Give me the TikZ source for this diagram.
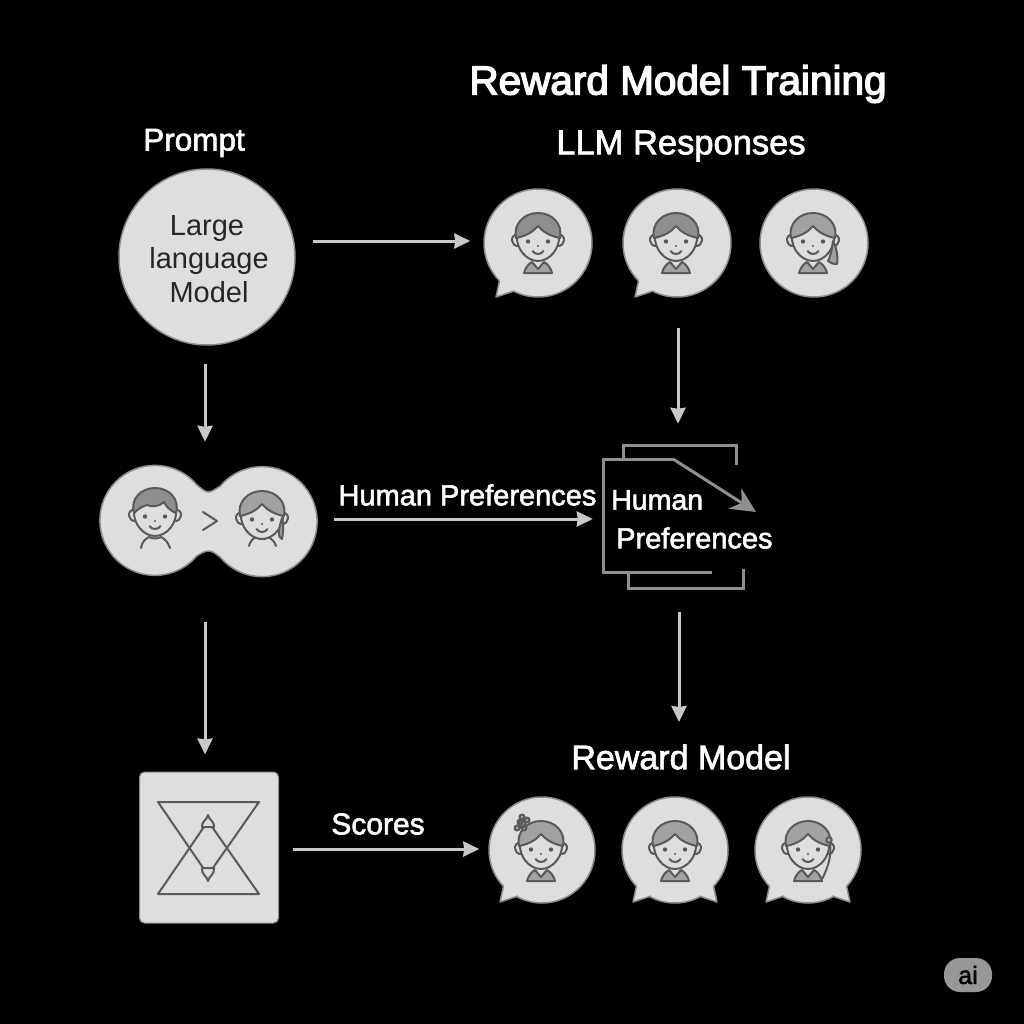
\documentclass[tikz,border=0pt]{standalone}
\usepackage{fontspec}
\setmainfont{Liberation Sans}
\newfontfamily\medfont[FakeBold=2]{Liberation Sans}
\newfontfamily\heavyfont[FakeBold=3.5]{Liberation Sans}
\usetikzlibrary{arrows.meta}
\definecolor{bubbleC}{HTML}{DEDEDE}
\definecolor{edgeC}{HTML}{8C8C8C}
\definecolor{inkC}{HTML}{5A5A5A}
\definecolor{hairD}{HTML}{8E8E8E}
\definecolor{hairL}{HTML}{A2A2A2}
\definecolor{arrC}{HTML}{C8C8C8}
\definecolor{docC}{HTML}{8F8F8F}
\tikzset{
  bub/.style={circle,draw=edgeC,fill=bubbleC,line width=1.5pt,minimum size=#1,inner sep=0pt},
  arr/.style={draw=arrC,line width=3pt,-{Stealth[length=16pt,width=15pt,inset=1pt]}},
  ink/.style={draw=inkC,line width=2pt,line join=round,line cap=round},
  docline/.style={draw=docC,line width=3pt},
  lab/.style={text=white,inner sep=0pt,anchor=center},
  blank/.style={inner sep=0pt,minimum width=#1},
}
% tail of a speech bubble: centre x, centre y, side (1 right, -1 left)
\newcommand{\tailat}[3]{\begin{scope}[shift={(#1,#2)},xscale=#3]
  \fill[bubbleC] (-38,37) -- (-42,54) -- (-24,48) -- (-26,36) -- cycle;
  \draw[draw=edgeC,line width=1.5pt,line join=round] (-38.5,38) -- (-42,54) -- (-24,48);
\end{scope}}
\newcommand{\headbase}[1]{%
  \draw[ink] (-21,-3) .. controls (-28,-4) and (-28,9) .. (-19,8);
  \draw[ink] (21,-3) .. controls (28,-4) and (28,9) .. (19,8);
  \fill[bubbleC] (-21,-6) -- (0,-14) -- (21,-6) .. controls (23,10) and (12,23) .. (0,23) .. controls (-12,23) and (-23,10) .. (-21,-6) -- cycle;
  \draw[ink] (-21,-2) .. controls (-22,10) and (-12,23) .. (0,23) .. controls (12,23) and (22,10) .. (21,-2);
  \fill[inkC] (-10,3.5) circle (2.2) (10,3.5) circle (2.2) (0,8) circle (1.2);
  \draw[ink] (-5.5,13) .. controls (-3,17) and (3,17) .. (5.5,13);
  #1}
\newcommand{\hairparted}[1]{\draw[ink,fill=#1] (-22,0) .. controls (-25,-14) and (-14,-25) .. (0,-25) .. controls (14,-25) and (25,-14) .. (22,0) .. controls (12,-2) and (5,-6) .. (0,-12) .. controls (-5,-6) and (-12,-2) .. (-22,0) -- cycle;}
\newcommand{\collar}[1]{\draw[ink,fill=#1] (-14,35) .. controls (-12,28) and (-9,26) .. (-6,24) -- (0,31) -- (6,24) .. controls (9,26) and (12,28) .. (14,35) -- cycle;}
\newcommand{\faceat}[4]{\begin{scope}[shift={(#1,#2)}]\collar{hairL}\headbase{\hairparted{#3}}#4\end{scope}}
\begin{document}
\begin{tikzpicture}[x=1pt,y=-1pt]
\useasboundingbox (0,0) rectangle (1024,1024);
\fill[black] (0,0) rectangle (1024,1024);

% titles
\node[lab,font=\heavyfont\fontsize{40.5}{41}\selectfont] (title) at (678,84) {Reward Model Training};
\node[lab,font=\medfont\fontsize{31.5}{32}\selectfont] (prompt) at (194,143) {Prompt};
\node[lab,font=\medfont\fontsize{34.5}{35}\selectfont] (resp) at (681,146) {LLM Responses};
\node[lab,font=\medfont\fontsize{34}{34}\selectfont] (rm) at (681,757) {Reward Model};

% LLM
\node[bub=176pt] (llm) at (207,257) {};
\node[inner sep=0pt,text=black!85,font=\fontsize{29}{29}\selectfont] (t1) at (207,229) {Large};
\node[inner sep=0pt,text=black!85,font=\fontsize{29}{29}\selectfont] (t2) at (209,261) {language};
\node[inner sep=0pt,text=black!85,font=\fontsize{29}{29}\selectfont] (t3) at (209,292) {Model};

% response bubbles
\node[bub=108pt] (r1) at (538,243) {};
\node[bub=108pt] (r2) at (677,243) {};
\node[bub=108pt] (r3) at (814,243) {};
\tailat{538}{243}{1}
\tailat{677}{243}{1}
\faceat{538}{238}{hairD}{}
\faceat{676}{238}{hairD}{}
\faceat{813}{238}{hairL}{\draw[ink,fill=hairL] (20,3) .. controls (24,10) and (25,20) .. (24,26) .. controls (20,26) and (17,25) .. (15,23) .. controls (18,18) and (19,10) .. (20,3) -- cycle;}

% preference pair
\node[blank=216pt,minimum height=108pt] (pair) at (208,521) {};
\draw[draw=edgeC,fill=bubbleC,line width=1.5pt]
  (197,485) arc[start angle=-40,end angle=-320,radius=55]
  .. controls (202,553) and (205,551) .. (208.5,551) .. controls (212,551) and (215,553) .. (220,557)
  arc[start angle=140,end angle=-140,radius=55]
  .. controls (215,489) and (212,492) .. (208.5,492) .. controls (205,492) and (202,489) .. (197,485) -- cycle;
\begin{scope}[shift={(155,513)}]
  \draw[ink] (-14,35) .. controls (-13,29) and (-10,26) .. (-6,24) .. controls (-2,26) and (2,26) .. (6,24) .. controls (10,26) and (13,29) .. (15,35);
  \headbase{\draw[ink,fill=hairD] (-21,0) .. controls (-25,-14) and (-14,-25) .. (0,-25) .. controls (14,-25) and (25,-14) .. (21,0) .. controls (14,-3) and (11,-7) .. (9,-11) .. controls (4,-6) and (-4,-6) .. (-8,-8) .. controls (-12,-7) and (-17,-4) .. (-21,0) -- cycle;}
\end{scope}
\begin{scope}[shift={(262,516)}]
  \draw[ink] (-13,30) .. controls (-12,26) and (-10,23) .. (-6,21) .. controls (-2,24) and (2,24) .. (6,21) .. controls (10,23) and (13,26) .. (14,30);
  \headbase{\hairparted{hairL}\draw[ink,fill=hairL] (20,2) .. controls (22,8) and (21,18) .. (20,23) .. controls (15,22) and (17,12) .. (20,2) -- cycle;}
\end{scope}
\draw[ink] (203,512) -- (217,521) -- (203,530);

% document icon
\node[blank=140pt,minimum height=143pt] (doc) at (673,516.5) {};
\draw[docline] (623,459) -- (623,445) -- (736,445) -- (736,465);
\draw[docline] (628,573) -- (628,588) -- (743,588) -- (743,569);
\draw[docline] (712,572) -- (603,572) -- (603,459) -- (673,459);
\draw[docline,-{Stealth[length=25pt,width=24pt,inset=8pt]}] (673,459) -- (756,512);
\node[lab,anchor=west,font=\medfont\fontsize{28.5}{29}\selectfont] (h1) at (611,500) {Human};
\node[lab,anchor=west,font=\medfont\fontsize{29}{29}\selectfont] (h2) at (616,538) {Preferences};

% score box
\node[draw=edgeC,fill=bubbleC,line width=1pt,rounded corners=5pt,minimum width=139pt,minimum height=151pt,inner sep=0pt] (box) at (209,847.5) {};
\draw[ink] (158,802) -- (259,802) -- (208,875) -- cycle;
\draw[ink] (158,894) -- (259,894) -- (208,821) -- cycle;
\draw[ink,fill=bubbleC] (208,815) .. controls (209,820) and (215,822) .. (214,827) -- (202,827) .. controls (201,822) and (207,820) .. (208,815) -- cycle;
\draw[ink,fill=bubbleC] (202,868) -- (214,868) .. controls (215,874) and (209,876) .. (208,881) .. controls (207,876) and (201,874) .. (202,868) -- cycle;

% reward bubbles
\node[bub=106pt] (b1) at (542,850) {};
\node[bub=106pt] (b2) at (675,850) {};
\node[bub=106pt] (b3) at (808,850) {};
\tailat{542}{848}{1}
\tailat{675}{848}{1}
\tailat{675}{848}{-1}
\tailat{808}{848}{1}
\tailat{808}{848}{-1}
\faceat{541}{846}{hairL}{\draw[ink,fill=hairL] (-17,-18) circle (2.5) (-21,-24) circle (2.5) (-14,-26) circle (2.5) (-24,-18) circle (2.5) (-19,-29) circle (2.5) (-19,-22) circle (3.5);}
\faceat{675}{846}{hairL}{}
\faceat{808}{846}{hairL}{\draw[ink,fill=hairL] (21,-6) circle (2.8); \draw[ink] (22,-3) .. controls (24,8) and (20,22) .. (14,33);}

% connector labels
\node[lab,font=\medfont\fontsize{29}{29}\selectfont] (hp) at (467.5,495) {Human Preferences};
\node[lab,font=\medfont\fontsize{30}{30}\selectfont] (sc) at (378,824) {Scores};

% watermark
\node[fill=edgeC!90,rounded corners=16pt,minimum width=48pt,minimum height=34pt,inner sep=0pt,text=black,font=\medfont\fontsize{25}{25}\selectfont] (ai) at (968,975) {ai};

% connectors
\draw[arr] ([xshift=17pt,yshift=16pt]llm.east) -- ([xshift=-13pt,yshift=2pt]r1.west);
\draw[arr] ([xshift=-2pt,yshift=-18pt]llm.south) -- ([xshift=-3pt,yshift=25pt]pair.north);
\draw[arr] ([xshift=-3pt,yshift=-47pt]pair.south) -- ([xshift=-4pt,yshift=17pt]box.north);
\draw[arr] ([xshift=18pt,yshift=2pt]pair.east) -- ([xshift=-10pt,yshift=-2.5pt]doc.west);
\draw[arr] ([xshift=1pt,yshift=-30pt]r2.south) -- ([xshift=5pt,yshift=21pt]doc.north);
\draw[arr] ([xshift=6pt,yshift=-24pt]doc.south) -- ([xshift=-2pt,yshift=35pt]rm.center);
\draw[arr] ([xshift=13.5pt,yshift=-1.5pt]box.east) -- ([xshift=-9pt,yshift=1pt]b1.west);
\end{tikzpicture}
\end{document}
